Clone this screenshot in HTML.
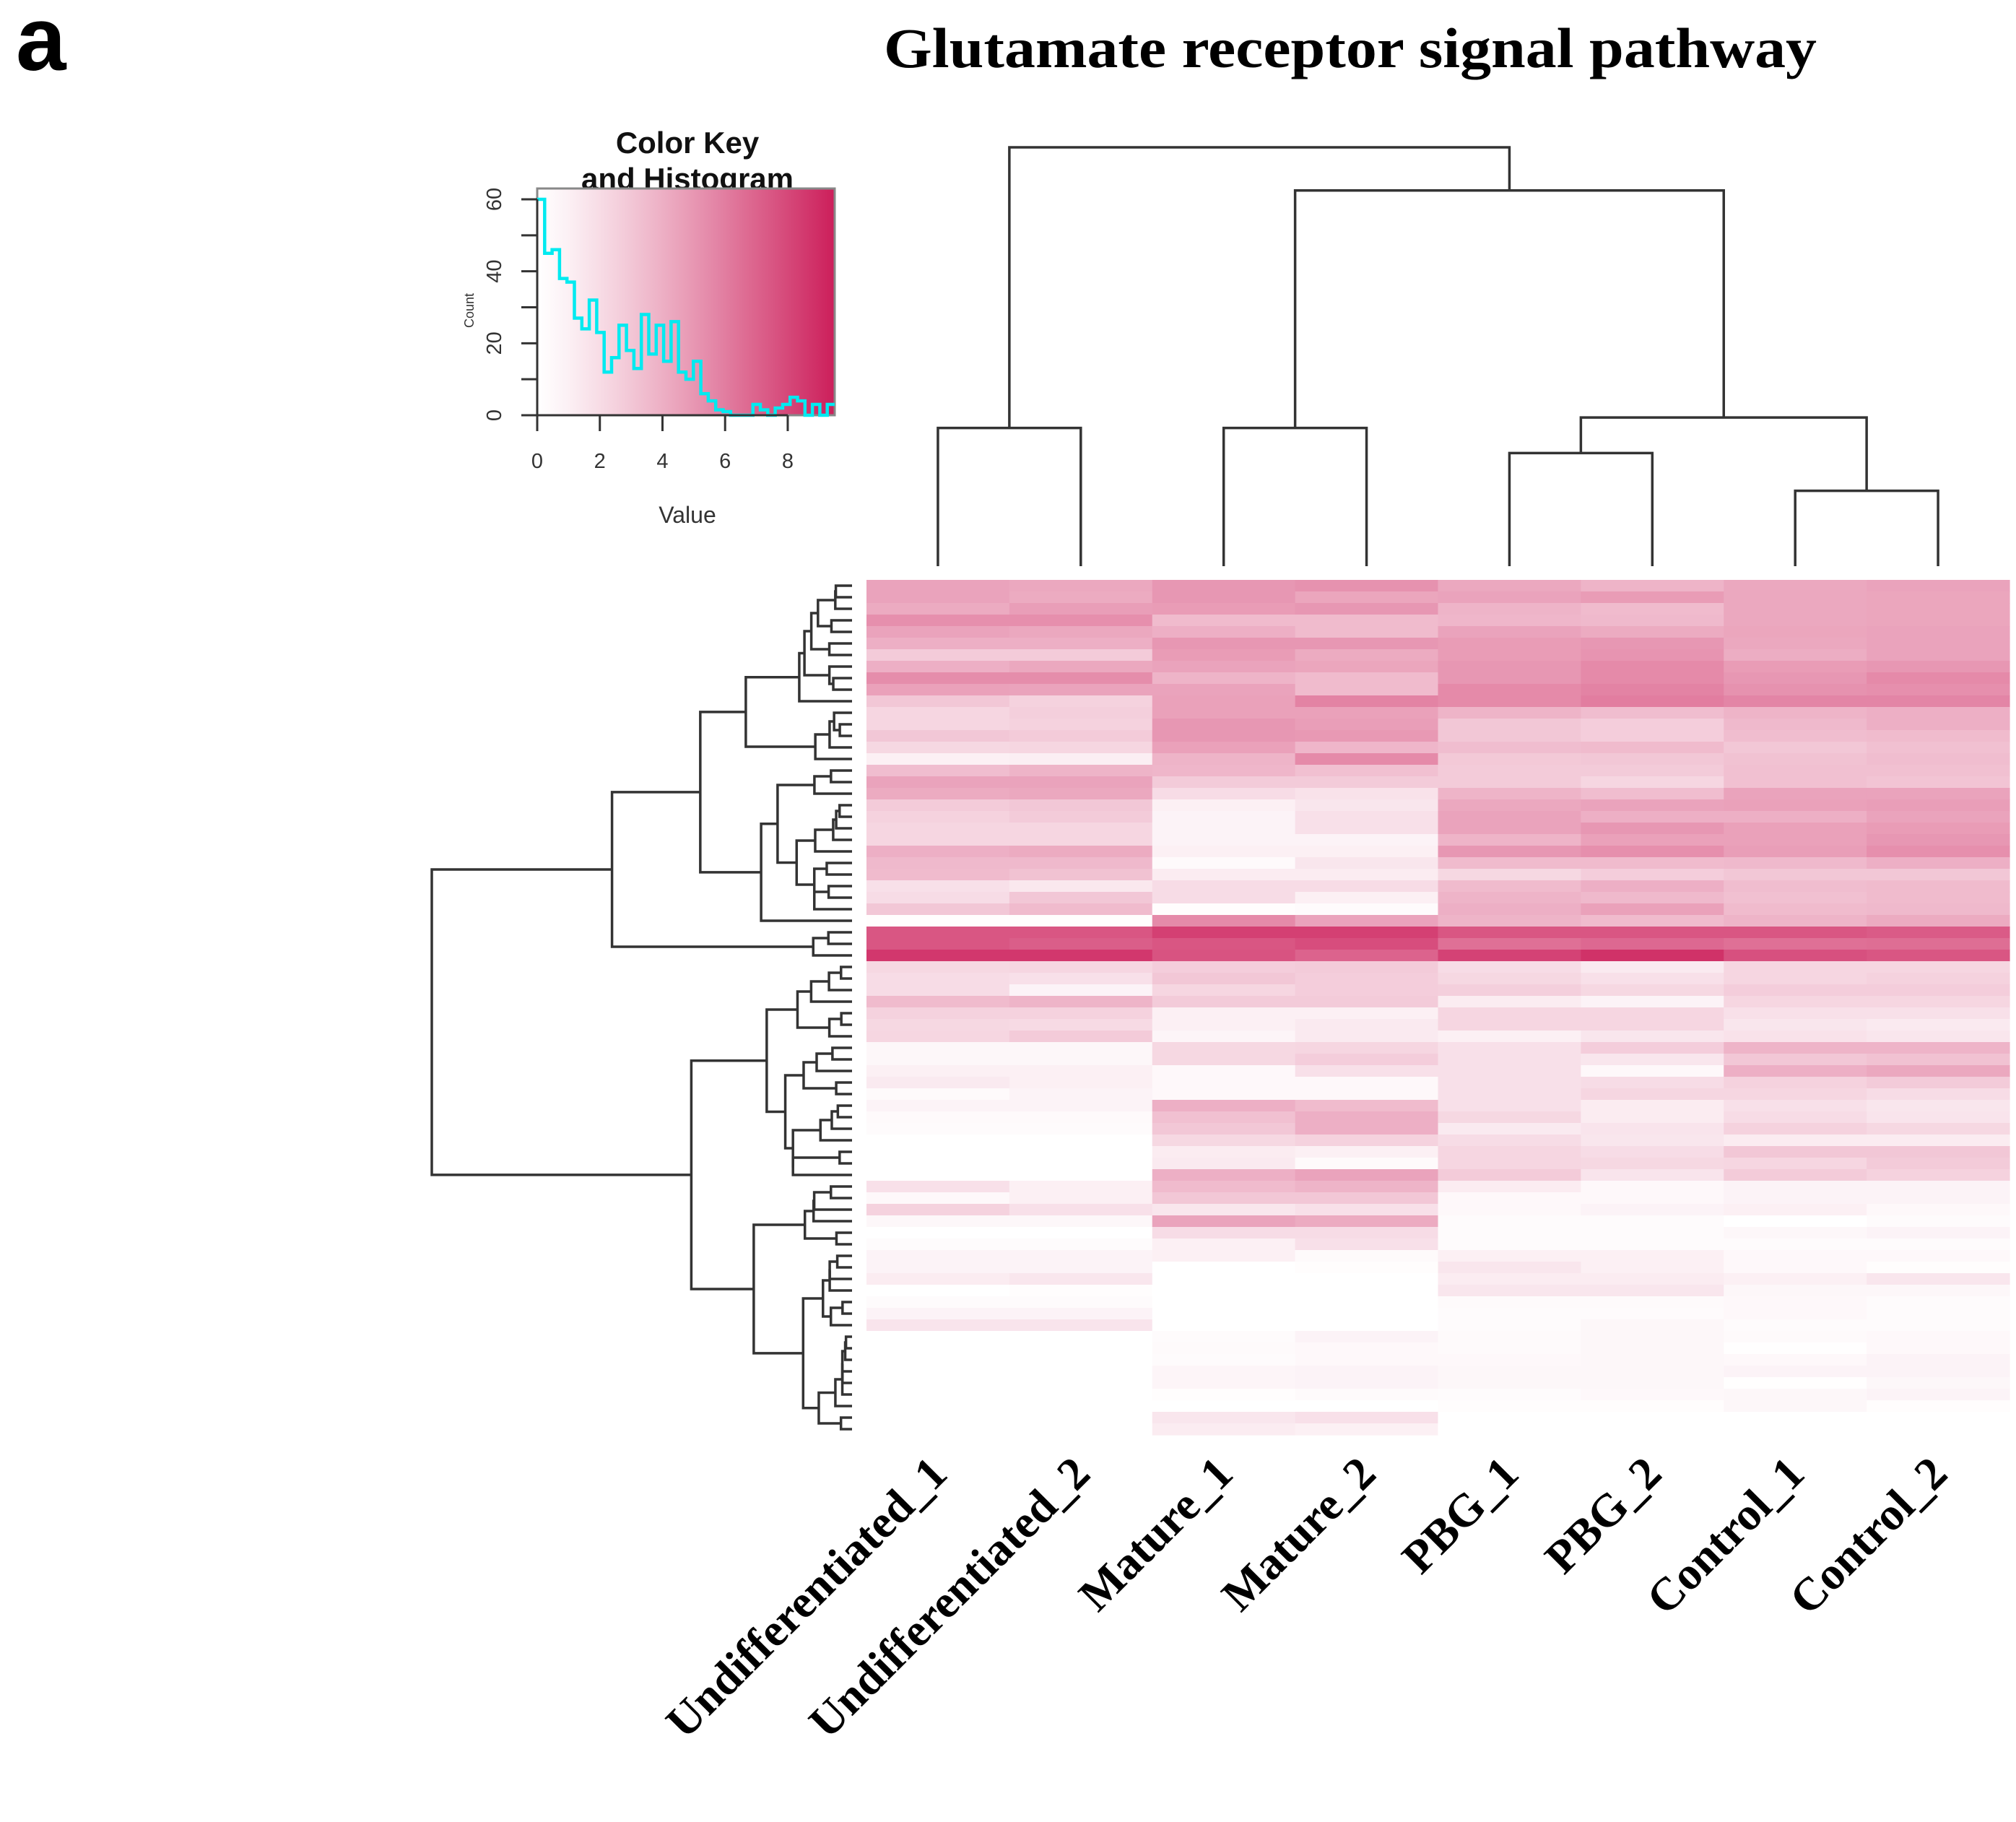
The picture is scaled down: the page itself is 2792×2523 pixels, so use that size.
<!DOCTYPE html>
<html><head><meta charset="utf-8"><style>
html,body{margin:0;padding:0;background:#fff}
svg{display:block}
</style></head><body>
<svg id="fig" width="2792" height="2523" viewBox="0 0 2792 2523" xmlns="http://www.w3.org/2000/svg">
<text x="22" y="97" font-family="Liberation Sans, sans-serif" font-weight="bold" font-size="125">a</text>
<text x="1870" y="93" text-anchor="middle" font-family="Liberation Serif, serif" font-weight="bold" font-size="78" textLength="1292" lengthAdjust="spacingAndGlyphs">Glutamate receptor signal pathway</text>
<text x="952" y="212" text-anchor="middle" font-family="Liberation Sans, sans-serif" font-weight="bold" font-size="42" fill="#111">Color Key</text>
<text x="952" y="262" text-anchor="middle" font-family="Liberation Sans, sans-serif" font-weight="bold" font-size="42" fill="#111">and Histogram</text>
<text x="656" y="430" text-anchor="middle" font-family="Liberation Sans, sans-serif" font-size="18" fill="#333" transform="rotate(-90 656 430)">Count</text>
<text x="952" y="724" text-anchor="middle" font-family="Liberation Sans, sans-serif" font-size="32" fill="#333">Value</text>
<g id="key"></g>
<g id="coldendro"></g>
<g id="rowdendro"></g>
<g id="heat"></g>
<g id="collabels"></g>
</svg>
<script>
const columns = ["Undifferentiated_1","Undifferentiated_2","Mature_1","Mature_2","PBG_1","PBG_2","Control_1","Control_2"];
const rowValues = [
[4.5,4.3,5,5.2,4.3,3.8,4.3,4.5],[4.5,4.2,5,4.4,4.5,4.8,4.3,4.4],[4.2,4.7,4.8,5,3.8,3.5,4.3,4.4],[5.3,5.3,3.5,3.5,3.7,3.6,4.3,4.4],
[4.5,4.3,4,3.5,4.5,4.2,4.4,4.5],[4,4,5,5,4.8,5,4.3,4.5],[2.8,2.8,4.8,4.2,4.8,5.1,4.1,4.5],[4,4.3,4.5,4.4,5,5.5,4.8,5],
[5.4,5.4,3.8,3.5,5,5.5,5,5.5],[4.6,4.5,4.5,3.5,5.5,5.8,5.2,5.3],[3,2.5,4.6,5.8,5.5,6,5.7,5.7],[2.3,2.6,4.6,4.6,3.8,3.4,3.8,4],
[2.3,2.5,5,4.7,3,2.7,3.6,4],[3,2.8,5,4.9,3,2.7,3.4,3.5],[2.2,2.3,4.6,3.7,3.4,3.5,3,3.3],[1,1.1,3.8,5.5,2.9,3,3.2,3.4],
[3.4,3.8,3.7,3.3,2.8,2.8,3.3,3.3],[4.5,4.5,2.8,2.8,2.8,2.3,3.3,3.1],[4.2,4.3,2,1.7,3.8,3.4,4.5,4.5],[2.8,3,1,1.5,4.3,4.5,4.6,4.7],
[2.5,2.8,0.8,1.8,4.5,4,4,4.5],[2.3,2.3,0.8,1.8,4.5,5,4.6,4.8],[2.3,2.3,0.8,0.8,3.8,4.6,4.6,5],[4,4.2,1,1,5,5.3,4.7,5.3],
[3.6,3.6,0.4,1.5,3.5,3.5,3.6,4],[3.5,3.2,1.2,1.2,2.2,2.7,3,3],[1.8,1.4,2,2,3.5,4,3.4,3.5],[2,3,2,1,3.8,3.6,3.3,3.5],
[3,3.5,0.2,0.3,4,4.6,3.5,3.6],[0.2,0.2,5.5,4.5,3.8,3.5,3.8,4.2],[7.5,7.5,8.3,8.3,7.5,7.5,7.5,7.3],[7.5,7.2,7.5,7.8,6.5,6.8,6.5,6.6],
[8.6,8.6,7.6,7,8.2,8.8,7.7,7.5],[2.2,2.3,2.7,2.8,2,1.3,2.3,2.3],[2,1.8,3,2.7,2.2,1.8,2.3,2.5],[2,0.8,2.3,2.7,2.6,2.2,2.7,2.7],
[3.5,3.8,2.8,2.8,1.2,0.8,2.3,2.3],[2.5,2.5,1,1,2.3,2.3,1.8,1.8],[2.2,2.1,1,1.3,2.3,2.3,1.5,1.3],[2.3,2.8,0.7,1.3,1,1.5,1.7,1.5],
[0.6,0.6,2.2,2.3,1.8,2.7,3.8,3.8],[0.6,0.6,2.2,2.7,1.8,1.5,3,3.2],[1,1,0.5,1.8,1.8,0.5,4,4.3],[1.3,1,0.5,0.5,1.8,2,2.5,2.8],
[0.4,0.8,0.5,0.5,1.8,2.3,2.3,2],[0.8,0.8,4,3.5,1.8,1.2,1.8,1.5],[0.4,0.4,3.3,4,2.2,1.2,2,1.6],[0.3,0.3,3,4,1.3,1.6,2.5,2.2],
[0,0,2.2,2.5,2,1.5,1.2,1.2],[0,0,1.2,1,2.3,2,3,3],[0,0,1.3,0.4,2.3,2.2,2.3,2.8],[0,0,4,4.5,2.8,1.6,2.8,2.5],
[1.8,1,3.5,3.8,1.2,0.5,0.8,0.8],[0.5,1,3,3,0.5,0.5,0.8,0.8],[2.5,1.8,1.5,1.8,0.5,0.8,1,0.5],[0.6,0.6,4.5,4.2,0.3,0.3,0,0.3],
[0,0,2,2,0.3,0.3,0.6,0.8],[0.3,0.3,1,1.8,0.3,0.3,0.3,0.3],[0.8,0.8,1,0.4,1,1,0.5,0.5],[0.8,0.8,0,0.2,1.5,1,0.5,0.2],
[1.2,1.5,0,0,1.2,1.2,1,1.5],[0,0.2,0,0,1.5,1.5,0.6,0.6],[0.3,0.3,0,0,0.4,0.4,0.5,0.3],[0.8,0.8,0,0,0.3,0.3,0.5,0.3],
[1.6,1.6,0,0,0.3,0.6,0.3,0.3],[0,0,0.3,0.8,0.4,0.6,0.4,0.5],[0,0,0.4,0.5,0.4,0.6,0.1,0.5],[0,0,0.3,0.5,0.5,0.6,0.5,0.8],
[0,0,0.7,0.8,0.6,0.6,0.8,0.8],[0,0,0.7,0.8,0.6,0.6,0.1,0.6],[0,0,0.2,0.4,0.3,0.5,0.6,0.8],[0,0,0,0,0.2,0.2,0.6,0.2],
[0,0,1.5,1.8,0,0,0,0],[0,0,1.2,1,0,0,0,0]
];
const colMerges = [[0,1,0.33],[2,3,0.33],[4,5,0.27],[6,7,0.18],[10,11,0.355],[9,12,0.897],[8,13,1.0]];
const histCounts = [60,45,46,38,37,27,24,32,23,12,16,25,18,13,28,17,25,15,26,12,10,15,6,4,1.5,1,0,0,0,3,1.5,0,2,3,5,4,0,3,0,3];
const keyXTicks = [0,2,4,6,8];
const keyYTicks = [0,10,20,30,40,50,60];
const keyYLabels = [0,20,40,60];

const NS="http://www.w3.org/2000/svg";
function mk(tag,attrs,parent){const e=document.createElementNS(NS,tag);for(const k in attrs)e.setAttribute(k,attrs[k]);if(parent)parent.appendChild(e);return e;}
const VMAX=9.5;
function col(v){let t=Math.max(0,Math.min(1,v/VMAX));t=Math.pow(t,1.2);const r=Math.round(255-t*(255-204)),g=Math.round(255-t*(255-30)),b=Math.round(255-t*(255-90));return `rgb(${r},${g},${b})`;}

const HX0=1200,HX1=2783,HY0=803,HY1=1987;
const cw=(HX1-HX0)/columns.length, rh=(HY1-HY0)/rowValues.length;
const xCol=i=>HX0+i*cw, yRow=j=>HY0+j*rh;
const heat=document.getElementById('heat');
rowValues.forEach((row,j)=>row.forEach((v,i)=>{
  const r=mk('rect',{x:xCol(i),y:yRow(j),width:cw+0.6,height:rh+0.6,fill:col(v)},heat);
  
  
}));

const cl=document.getElementById('collabels');
columns.forEach((c,i)=>{
  const cx=xCol(i)+cw/2+16, cy=2044;
  const t=mk('text',{x:cx,y:cy,'text-anchor':'end','font-family':'Liberation Serif, serif','font-weight':'bold','font-size':'64',transform:`rotate(-45 ${cx} ${cy})`},cl);
  t.textContent=c;
  
  
});

const cd=document.getElementById('coldendro');
const CBASE=784, CTOP=204;
const hy=h=>CBASE-h*(CBASE-CTOP);
const nodes=columns.map((c,i)=>({x:xCol(i)+cw/2,h:0,y:CBASE}));
colMerges.forEach(m=>{
  const a=nodes[m[0]],b=nodes[m[1]],y=hy(m[2]);
  const p=mk('path',{d:`M${a.x},${a.y}V${y}H${b.x}V${b.y}`,fill:'none',stroke:'#333',"stroke-width":3.5},cd);
  
  
  nodes.push({x:(a.x+b.x)/2,h:m[2],y:y});
});

const rd=document.getElementById('rowdendro');
let cl2=rowValues.map((r,j)=>({mean:r.slice(),n:1,h:0,pos:yRow(j)+rh/2}));
const merges=[];
function dist(a,b){let s=0;for(let k=0;k<a.mean.length;k++){const d=a.mean[k]-b.mean[k];s+=d*d;}return Math.sqrt(s*a.n*b.n/(a.n+b.n));}
while(cl2.length>1){
  let best=0,bd=Infinity;
  for(let i=0;i<cl2.length-1;i++){const d=dist(cl2[i],cl2[i+1]);if(d<bd){bd=d;best=i;}}
  const a=cl2[best],b=cl2[best+1];
  const h=Math.max(bd,a.h,b.h)+0.001;
  const nn={mean:a.mean.map((v,k)=>(v*a.n+b.mean[k]*b.n)/(a.n+b.n)),n:a.n+b.n,h:h,pos:(a.pos+b.pos)/2};
  merges.push([a,b,nn]);
  cl2.splice(best,2,nn);
}
const maxH=cl2[0].h, LX=1180, RX=598;
const hx=h=>LX-Math.pow(h/maxH,0.9)*(LX-RX);
merges.forEach(([a,b,p])=>{
  const x=hx(p.h);
  const path=mk('path',{d:`M${hx(a.h)},${a.pos}H${x}V${b.pos}H${hx(b.h)}`,fill:'none',stroke:'#333',"stroke-width":3.5},rd);
  
  
});

const key=document.getElementById('key');
const KX0=744,KX1=1156,KY0=261,KY1=575, KV1=9.5, KC1=60, KYC=276;
const kx=v=>KX0+v/KV1*(KX1-KX0);
const ky=c=>KY1-c/KC1*(KY1-KYC);
const defs=mk('defs',{},key);
const lg=mk('linearGradient',{id:'kg',x1:0,x2:1,y1:0,y2:0},defs);
for(let s=0;s<=10;s++){mk('stop',{offset:s/10,'stop-color':col(s/10*KV1)},lg);}
const kr=mk('rect',{x:KX0,y:KY0,width:KX1-KX0,height:KY1-KY0,fill:'url(#kg)',stroke:'#888','stroke-width':3},key);


let d=`M${kx(0)},${ky(histCounts[0])}`;
const bw=KV1/histCounts.length;
histCounts.forEach((c,i)=>{d+=`V${ky(c)}H${kx((i+1)*bw)}`;});
const hp=mk('path',{d:d,fill:'none',stroke:'#00eaf0','stroke-width':4.5},key);


mk('line',{x1:KX0,x2:KX0,y1:ky(0),y2:ky(60),stroke:'#333','stroke-width':3},key);
mk('line',{x1:kx(0),x2:kx(8),y1:KY1,y2:KY1,stroke:'#333','stroke-width':3},key);
keyYTicks.forEach(t=>{mk('line',{x1:KX0-22,x2:KX0,y1:ky(t),y2:ky(t),stroke:'#333','stroke-width':3},key);});
keyYLabels.forEach(t=>{const y=ky(t);const tx=mk('text',{x:694,y:y,'text-anchor':'middle','font-family':'Liberation Sans, sans-serif','font-size':'29',fill:'#333',transform:`rotate(-90 694 ${y})`},key);tx.textContent=t;
  
  });
keyXTicks.forEach(t=>{mk('line',{x1:kx(t),x2:kx(t),y1:KY1,y2:KY1+22,stroke:'#333','stroke-width':3},key);
  const tx=mk('text',{x:kx(t),y:648,'text-anchor':'middle','font-family':'Liberation Sans, sans-serif','font-size':'29',fill:'#333'},key);tx.textContent=t;
  
  });
</script>
</body></html>
